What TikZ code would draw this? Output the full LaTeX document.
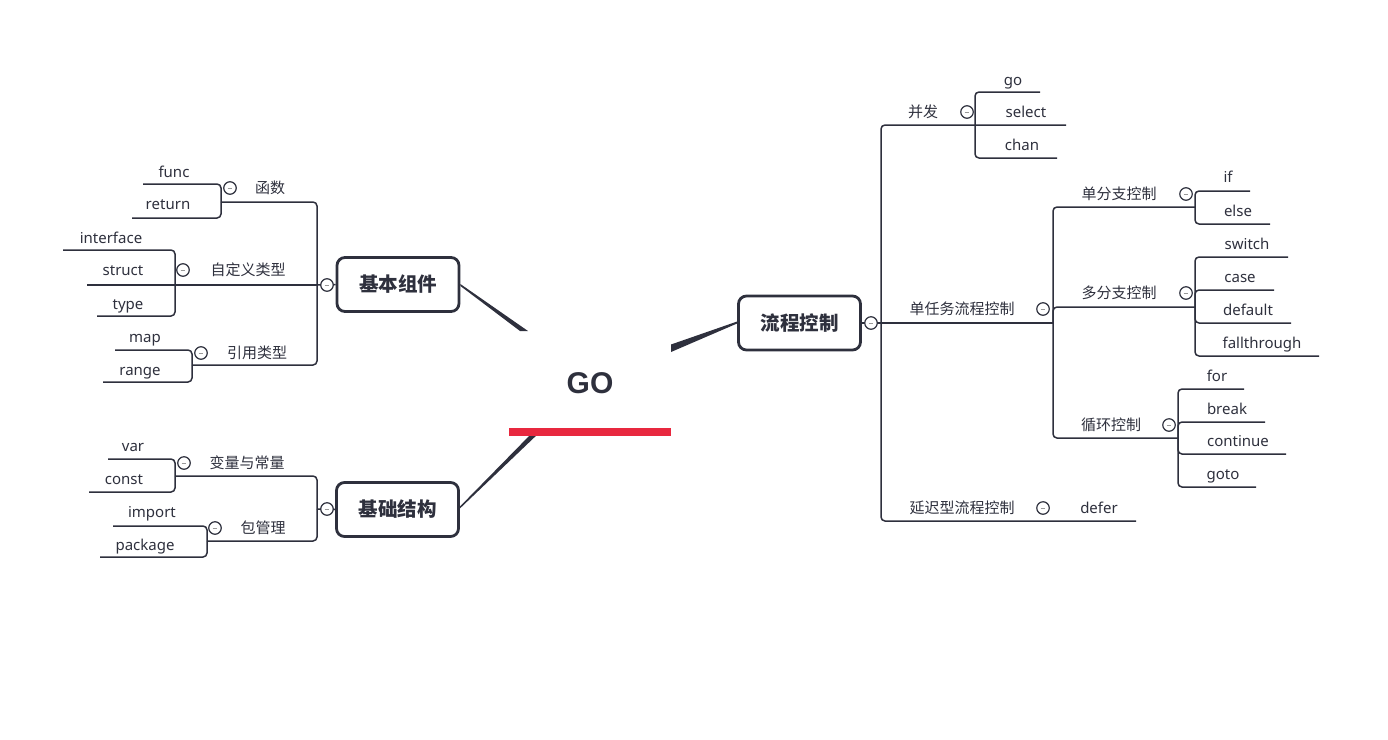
\documentclass[tikz,border=0pt]{standalone}
\usepackage{fontspec}
\setmainfont{Noto Sans}
\newfontfamily\cjk{Noto Sans CJK SC}
\newfontfamily\gofont{Liberation Sans}
\definecolor{lc}{HTML}{2E303D}
\definecolor{gored}{HTML}{E8283F}
\begin{document}
\begin{tikzpicture}[x=1pt,y=-1pt,
  conn/.style={draw=lc, line width=1.5pt, rounded corners=4pt},
  leaf/.style={font=\fontsize{15}{18}\selectfont, text=lc, inner sep=0pt, anchor=base, yshift=-5.5pt},
  lab/.style={font=\cjk\fontsize{15}{18}\selectfont, text=lc, inner sep=0pt, anchor=base, yshift=-5.5pt},
  mainbox/.style={draw=lc, line width=2.8pt, rounded corners=8pt, fill=white,
    minimum width=122pt, minimum height=54pt, inner sep=0pt, text=lc,
    font=\cjk\bfseries\fontsize{19.5}{22}\selectfont, text height=16.7pt, text depth=2.3pt},
  fold/.style={circle, draw=lc, fill=white, line width=1.2pt, minimum size=12.5pt, inner sep=0pt,
    path picture={\draw[gray!80, line width=0.8pt] ([xshift=-2.3pt]path picture bounding box.center) -- ([xshift=2.3pt]path picture bounding box.center);}},
  taper/.style={fill=lc}
]
\useasboundingbox (0,0) rectangle (1388,739);

% ---------- centre ----------
\node[font=\gofont\bfseries\fontsize{30}{34}\selectfont, text=lc, inner sep=0pt, anchor=base] (go) at (590,393) {GO};

% ---------- main boxes ----------
\node[mainbox] (b1) at (398,284.5) {基本组件};
\node[mainbox] (b2) at (397.5,509.5) {基础结构};
\node[mainbox] (b3) at (799.5,323) {流程控制};

% tapered connectors
\fill[taper] (b1.east |- 0,284) -- (528,331) -- (520,331) -- (b1.east |- 0,286) -- cycle;
\fill[taper] (b3.west |- 0,321.5) -- (b3.west |- 0,323.5) -- (671,352) -- (671,344.5) -- cycle;
\fill[taper] (b2.east |- 0,506.5) -- (b2.east |- 0,508.5) -- (540,432) -- (533,432) -- cycle;
\node[fill=gored, minimum width=162pt, minimum height=8pt, inner sep=0pt] (bar) at (590,432) {};

% ---------- 基本组件 ----------
\coordinate (j1) at (317,285);
\coordinate (k1) at (221,202);
\coordinate (k2) at (175,285);
\coordinate (k3) at (192,365);
\coordinate (e-func) at (143,184);
\coordinate (e-return) at (132,218);
\coordinate (e-interface) at (63,250);
\coordinate (e-struct) at (87,285);
\coordinate (e-type) at (97,316);
\coordinate (e-map) at (115,350);
\coordinate (e-range) at (103,382);
\draw[conn] (b1.west) -- (j1);
\draw[conn] (j1) |- (k1);
\draw[conn] (j1) |- (k3);
\draw[conn] (j1) -- (k2) -- (e-struct);
\draw[conn] (k1) |- (e-func);
\draw[conn] (k1) |- (e-return);
\draw[conn] (k2) |- (e-interface);
\draw[conn] (k2) |- (e-type);
\draw[conn] (k3) |- (e-map);
\draw[conn] (k3) |- (e-range);
\node[fold] (f1) at (327,285) {};
\node[fold] (f11) at (230,188) {};
\node[fold] (f12) at (183,270) {};
\node[fold] (f13) at (201,353) {};
\node[lab] (l11) at (270,188) {函数};
\node[lab] (l12) at (248,270) {自定义类型};
\node[lab] (l13) at (257,353) {引用类型};
\node[leaf] (n-func) at (174,172) {func};
\node[leaf] (n-return) at (168,204) {return};
\node[leaf] (n-interface) at (111,238) {interface};
\node[leaf] (n-struct) at (123,270) {struct};
\node[leaf] (n-type) at (128,304) {type};
\node[leaf] (n-map) at (145,337) {map};
\node[leaf] (n-range) at (140,370) {range};

% ---------- 基础结构 ----------
\coordinate (j2) at (317,509);
\coordinate (k4) at (175,476);
\coordinate (k5) at (207,541);
\coordinate (e-var) at (108,459);
\coordinate (e-const) at (89,492);
\coordinate (e-import) at (113,526);
\coordinate (e-package) at (100,557);
\draw[conn] (b2.west) -- (j2);
\draw[conn] (j2) |- (k4);
\draw[conn] (j2) |- (k5);
\draw[conn] (k4) |- (e-var);
\draw[conn] (k4) |- (e-const);
\draw[conn] (k5) |- (e-import);
\draw[conn] (k5) |- (e-package);
\node[fold] (f2) at (327,509) {};
\node[fold] (f21) at (184,463) {};
\node[fold] (f22) at (215,528) {};
\node[lab] (l21) at (247,463) {变量与常量};
\node[lab] (l22) at (263,528) {包管理};
\node[leaf] (n-var) at (133,446) {var};
\node[leaf] (n-const) at (124,479) {const};
\node[leaf] (n-import) at (152,512) {import};
\node[leaf] (n-package) at (145,545) {package};

% ---------- 流程控制 ----------
\coordinate (r0) at (881,323);
\coordinate (m1) at (975,125);
\coordinate (m2) at (1053,323);
\coordinate (m21) at (1195,207);
\coordinate (m22) at (1195,307);
\coordinate (m23) at (1178,438);
\coordinate (e-go) at (1040,92);
\coordinate (e-select) at (1066,125);
\coordinate (e-chan) at (1057,158);
\coordinate (e-if) at (1250,191);
\coordinate (e-else) at (1270,224);
\coordinate (e-switch) at (1288,257);
\coordinate (e-case) at (1274,290);
\coordinate (e-default) at (1291,323);
\coordinate (e-fall) at (1319,356);
\coordinate (e-for) at (1244,389);
\coordinate (e-break) at (1265,422);
\coordinate (e-continue) at (1286,454);
\coordinate (e-goto) at (1256,487);
\coordinate (e-defer) at (1136,521);
\draw[conn] (b3.east) -- (r0);
\draw[conn] (r0) |- (m1) -- (e-select);
\draw[conn] (m1) |- (e-go);
\draw[conn] (m1) |- (e-chan);
\draw[conn] (r0) -- (m2);
\draw[conn] (r0) |- (e-defer);
\draw[conn] (m2) |- (m21);
\draw[conn] (m2) |- (m22);
\draw[conn] (m2) |- (m23);
\draw[conn] (m21) |- (e-if);
\draw[conn] (m21) |- (e-else);
\draw[conn] (m22) |- (e-switch);
\draw[conn] (m22) |- (e-case);
\draw[conn] (m22) |- (e-default);
\draw[conn] (m22) |- (e-fall);
\draw[conn] (m23) |- (e-for);
\draw[conn] (m23) |- (e-break);
\draw[conn] (m23) |- (e-continue);
\draw[conn] (m23) |- (e-goto);
\node[fold] (f3) at (871,323) {};
\node[fold] (f31) at (967,112) {};
\node[fold] (f32) at (1043,309) {};
\node[fold] (f33) at (1186,194) {};
\node[fold] (f34) at (1186,293) {};
\node[fold] (f35) at (1169,425) {};
\node[fold] (f36) at (1043,508) {};
\node[lab] (l31) at (923,112) {并发};
\node[lab] (l32) at (962,309) {单任务流程控制};
\node[lab] (l33) at (1119,194) {单分支控制};
\node[lab] (l34) at (1119,293) {多分支控制};
\node[lab] (l35) at (1111,425) {循环控制};
\node[lab] (l36) at (962,508) {延迟型流程控制};
\node[leaf] (n-go) at (1013,80) {go};
\node[leaf] (n-select) at (1026,112) {select};
\node[leaf] (n-chan) at (1022,145) {chan};
\node[leaf] (n-if) at (1228,177) {if};
\node[leaf] (n-else) at (1238,211) {else};
\node[leaf] (n-switch) at (1247,244) {switch};
\node[leaf] (n-case) at (1240,277) {case};
\node[leaf] (n-default) at (1248,310) {default};
\node[leaf] (n-fall) at (1262,343) {fallthrough};
\node[leaf] (n-for) at (1217,376) {for};
\node[leaf] (n-break) at (1227,409) {break};
\node[leaf] (n-continue) at (1238,441) {continue};
\node[leaf] (n-goto) at (1223,474) {goto};
\node[leaf] (n-defer) at (1099,508) {defer};
\end{tikzpicture}
\end{document}
